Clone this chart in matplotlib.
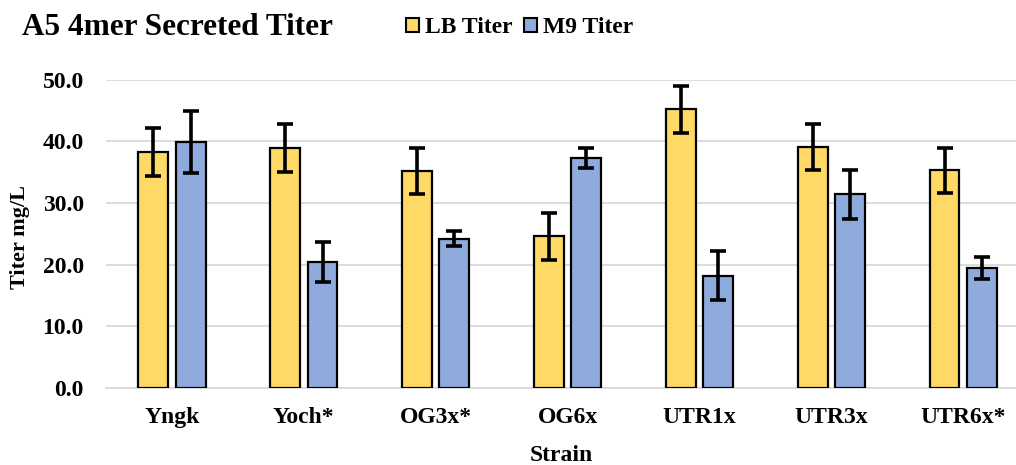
import numpy as np
import matplotlib
matplotlib.use('Agg')
import matplotlib.pyplot as plt
from matplotlib.patches import Patch

plt.rcParams['font.family'] = ['Liberation Serif', 'DejaVu Serif']
plt.rcParams['font.weight'] = 'bold'

strains = ['Yngk', 'Yoch*', 'OG3x*', 'OG6x', 'UTR1x', 'UTR3x', 'UTR6x*']
lb_titer = [38.3, 39.0, 35.2, 24.6, 45.2, 39.1, 35.3]
lb_err = [3.9, 3.9, 3.8, 3.8, 3.8, 3.8, 3.6]
m9_titer = [39.9, 20.4, 24.2, 37.3, 18.2, 31.4, 19.4]
m9_err = [5.1, 3.3, 1.2, 1.6, 4.0, 4.0, 1.8]

LB_COLOR = '#FFD966'
M9_COLOR = '#8FAADC'

fig = plt.figure(figsize=(10.16, 4.65), dpi=100)
ax = fig.add_axes([0.1043, 0.1662, 0.8957, 0.662])

x = np.arange(len(strains))
w = 0.227
off = 0.142
errkw = dict(ecolor='black', elinewidth=2.6, capsize=5.5, capthick=2.6)
ax.bar(x - off, lb_titer, w, color=LB_COLOR, edgecolor='black', linewidth=1.6,
       yerr=lb_err, error_kw=errkw, zorder=3)
ax.bar(x + off, m9_titer, w, color=M9_COLOR, edgecolor='black', linewidth=1.6,
       yerr=m9_err, error_kw=errkw, zorder=3)

ax.set_ylim(0, 50)
ax.set_xlim(-0.5, 6.4)
ax.set_yticks(np.arange(0, 51, 10))
ax.set_yticklabels(['%.1f' % v for v in np.arange(0, 51, 10)], fontsize=17, fontweight='bold')
ax.set_xticks(x)
ax.set_xticklabels(strains, fontsize=17, fontweight='bold')
ax.tick_params(axis='y', length=0, pad=16)
ax.tick_params(axis='x', length=0, pad=14)
ax.yaxis.grid(True, color='#D9D9D9', linewidth=1.3, zorder=0)
ax.set_axisbelow(True)
for s in ['top', 'right', 'left']:
    ax.spines[s].set_visible(False)
ax.spines['bottom'].set_color('#D9D9D9')
ax.spines['bottom'].set_linewidth(1.3)

ax.set_ylabel('Titer mg/L', fontsize=16, fontweight='bold', va='center')
ax.yaxis.set_label_coords(-0.0945, 0.49)
ax.set_xlabel('Strain', fontsize=17, fontweight='bold', va='center')
ax.xaxis.set_label_coords(0.5, -0.219)

fig.text(0.022, 0.94, 'A5 4mer Secreted Titer', fontsize=22.5, fontweight='bold',
         va='center', ha='left')
handles = [Patch(facecolor=LB_COLOR, edgecolor='black', linewidth=1.5, label='LB Titer'),
           Patch(facecolor=M9_COLOR, edgecolor='black', linewidth=1.5, label='M9 Titer')]
fig.legend(handles=handles, loc='center left', bbox_to_anchor=(0.388, 0.94), ncol=2,
           frameon=False, handlelength=0.55, handleheight=0.55,
           handletextpad=0.25, columnspacing=0.5, borderpad=0,
           prop={'weight': 'bold', 'size': 17})

fig.savefig('out.png', dpi=100)
